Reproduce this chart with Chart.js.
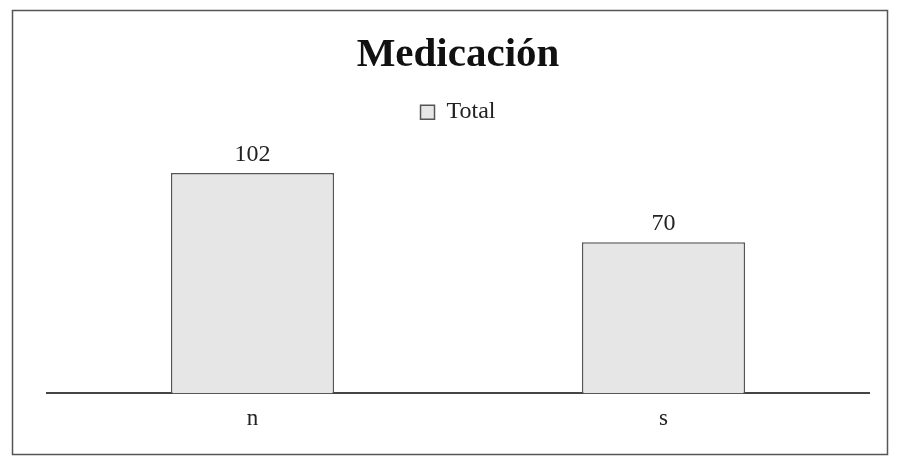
<!DOCTYPE html>
<html>
<head>
<meta charset="utf-8">
<script src="https://cdn.jsdelivr.net/npm/chart.js@4/dist/chart.umd.min.js"></script>
<style>
  body { margin: 0; background: #fff; }
  #wrap { width: 899px; height: 457px; position: relative; }
</style>
</head>
<body>
<div id="wrap"><canvas id="myChart" width="899" height="457"></canvas></div>
<script>
const categories = ['n', 's'];
const totals = [102, 70];
const seriesName = 'Total';
const chartTitle = 'Medicación';

const serif = "'Liberation Serif', 'DejaVu Serif', serif";

// frame round the whole picture
const framePlugin = {
    id: 'frame',
    beforeDraw(chart) {
        const c = chart.ctx;
        c.save();
        c.fillStyle = '#fff';
        c.fillRect(0, 0, chart.width, chart.height);
        c.strokeStyle = '#555';
        c.lineWidth = 1.5;
        c.strokeRect(12.5, 10.5, 875, 444);
        c.restore();
    }
};

// value above each bar
const valuePlugin = {
    id: 'values',
    afterDatasetsDraw(chart) {
        const c = chart.ctx;
        c.save();
        c.font = '24px ' + serif;
        c.fillStyle = '#222';
        c.textAlign = 'center';
        c.textBaseline = 'middle';
        chart.getDatasetMeta(0).data.forEach((bar, i) => {
            c.fillText(String(totals[i]), bar.x, bar.y - 18);
        });
        c.restore();
    }
};

const ctx = document.getElementById('myChart');

new Chart(ctx, {
    type: 'bar',
    data: {
        labels: categories,
        datasets: [{
            label: seriesName,
            data: totals,
            backgroundColor: '#e6e6e6',
            borderColor: '#555',
            borderWidth: 1.5,
            categoryPercentage: 1,
            barPercentage: 0.397
        }]
    },
    options: {
        responsive: false,
        animation: false,
        layout: {
            padding: { top: 20, left: 47, right: 30, bottom: 12 }
        },
        plugins: {
            title: {
                display: true,
                text: chartTitle,
                color: '#111',
                font: { family: serif, size: 41, weight: 'bold' },
                padding: { top: 11, bottom: 10 }
            },
            legend: {
                display: true,
                labels: {
                    color: '#222',
                    font: { family: serif, size: 24 },
                    boxWidth: 14,
                    boxHeight: 14,
                    padding: 10
                }
            },
            tooltip: { enabled: false }
        },
        scales: {
            x: {
                grid: { display: false, drawTicks: false },
                border: { display: true, color: '#444', width: 2 },
                ticks: {
                    color: '#222',
                    font: { family: serif, size: 23 },
                    padding: 12
                }
            },
            y: {
                display: false,
                min: 0,
                max: 120
            }
        }
    },
    plugins: [framePlugin, valuePlugin]
});
</script>
</body>
</html>
